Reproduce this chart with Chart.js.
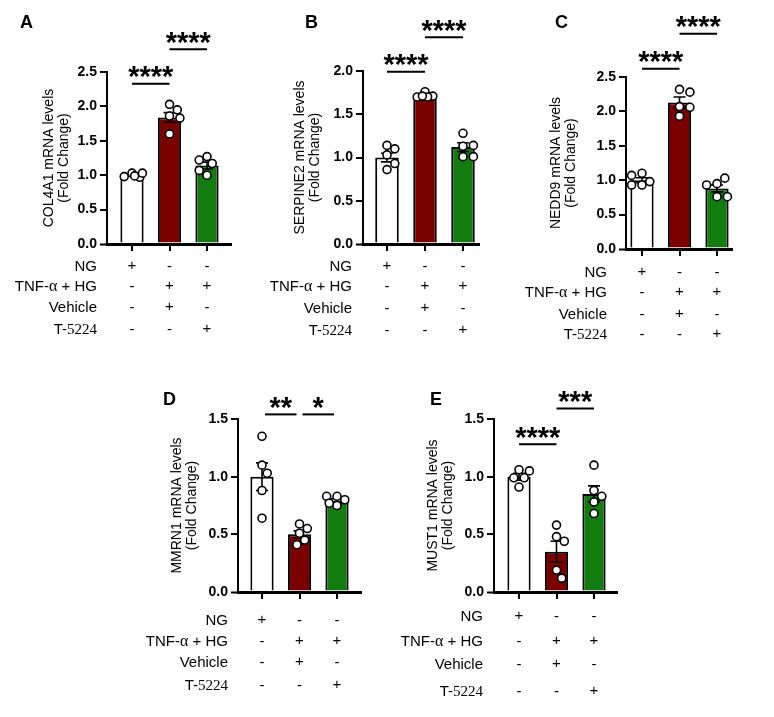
<!DOCTYPE html>
<html>
<head>
<meta charset="utf-8">
<script src="https://cdn.jsdelivr.net/npm/chart.js@4.4.0/dist/chart.umd.min.js"></script>
<style>
  body { margin: 0; background: #fff; width: 774px; height: 717px; position: relative; overflow: hidden; }
</style>
</head>
<body>
<script>
// groups and the treatment table under each panel
var conditions = ['NG', 'TNF-α + HG + Vehicle', 'TNF-α + HG + T-5224'];
var rowLabels = ['NG', 'TNF-α + HG', 'Vehicle', 'T-5224'];
var rowSigns = [
  ['+', '-', '-'],
  ['-', '+', '+'],
  ['-', '+', '-'],
  ['-', '-', '+']
];

// A - COL4A1
var col4a1Mean = [1.0, 1.84, 1.14];
var col4a1Sem = [0.015, 0.07, 0.05];
var col4a1Pts = [[1.03, 0.97, 0.98, 0.99, 1.03], [1.86, 1.83, 2.03, 1.6, 1.95], [1.0, 1.27, 1.17, 1.22, 1.07]];
var col4a1Ticks = [0, 0.5, 1.0, 1.5, 2.0, 2.5];
var col4a1Sig = [[0, 1, 2.33, '****'], [1, 2, 2.83, '****']];

// B - SERPINE2
var serpine2Mean = [1.0, 1.71, 1.12];
var serpine2Sem = [0.05, 0.012, 0.05];
var serpine2Pts = [[1.14, 1.03, 0.86, 0.93, 1.1], [1.76, 1.71, 1.7, 1.7, 1.71], [1.01, 1.13, 1.28, 1.01, 1.14]];
var serpine2Ticks = [0, 0.5, 1.0, 1.5, 2.0];
var serpine2Sig = [[0, 1, 1.99, '****'], [1, 2, 2.39, '****']];

// C - NEDD9
var nedd9Mean = [1.0, 2.13, 0.88];
var nedd9Sem = [0.035, 0.08, 0.05];
var nedd9Pts = [[0.93, 1.1, 0.98, 1.07, 0.93], [2.07, 2.32, 1.93, 2.28, 2.06], [0.76, 0.95, 1.03, 0.93, 0.76]];
var nedd9Ticks = [0, 0.5, 1.0, 1.5, 2.0, 2.5];
var nedd9Sig = [[0, 1, 2.62, '****'], [1, 2, 3.13, '****']];

// D - MMRN1
var mmrn1Mean = [1.0, 0.5, 0.79];
var mmrn1Sem = [0.12, 0.03, 0.02];
var mmrn1Pts = [[1.35, 1.1, 0.88, 1.03, 0.64], [0.59, 0.55, 0.51, 0.45, 0.41], [0.83, 0.75, 0.8, 0.83, 0.77]];
var mmrn1Ticks = [0, 0.5, 1.0, 1.5];
var mmrn1Sig = [[0, 1, 1.54, '**'], [1, 2, 1.54, '*']];

// E - MUST1
var must1Mean = [1.0, 0.35, 0.85];
var must1Sem = [0.03, 0.09, 0.07];
var must1Pts = [[1.06, 1.05, 0.99, 0.99, 0.91], [0.58, 0.48, 0.44, 0.19, 0.12], [1.1, 0.88, 0.78, 0.68, 0.83]];
var must1Ticks = [0, 0.5, 1.0, 1.5];
var must1Sig = [[0, 1, 1.28, '****'], [1, 2, 1.59, '***']];

var barColors = ['#ffffff', '#7b0000', '#127c0e'];
var SANS = "'Liberation Sans', Arial, sans-serif";
var SERIF = "'Liberation Serif', 'Times New Roman', serif";

Chart.defaults.font.family = SANS;
Chart.defaults.color = '#000';

// page layout of each panel (pixels)
var panels = [
  { id: 'A', gene: 'COL4A1', mean: col4a1Mean, sem: col4a1Sem, pts: col4a1Pts, ticks: col4a1Ticks, sig: col4a1Sig,
    box: [0, 0, 250, 350], axisX: 107, top: 72, bottom: 244, c0: 132, c2: 207, right: 232,
    titleX: 49, letter: [20, 28], labelRight: 97, rows: [267, 287, 308, 330], inset: 0 },
  { id: 'B', gene: 'SERPINE2', mean: serpine2Mean, sem: serpine2Sem, pts: serpine2Pts, ticks: serpine2Ticks, sig: serpine2Sig,
    box: [250, 0, 250, 350], axisX: 363, top: 71, bottom: 244, c0: 387, c2: 463, right: 480,
    titleX: 300, letter: [305, 28], labelRight: 352, rows: [267, 287, 309, 331], inset: 0 },
  { id: 'C', gene: 'NEDD9', mean: nedd9Mean, sem: nedd9Sem, pts: nedd9Pts, ticks: nedd9Ticks, sig: nedd9Sig,
    box: [500, 0, 274, 350], axisX: 626, top: 77, bottom: 249, c0: 642, c2: 717, right: 733,
    titleX: 556, letter: [555, 28], labelRight: 607, rows: [273, 293, 315, 335], inset: 0 },
  { id: 'D', gene: 'MMRN1', mean: mmrn1Mean, sem: mmrn1Sem, pts: mmrn1Pts, ticks: mmrn1Ticks, sig: mmrn1Sig,
    box: [130, 370, 260, 347], axisX: 238, top: 419, bottom: 592, c0: 262, c2: 337, right: 362,
    titleX: 177, letter: [163, 405], labelRight: 228, rows: [621, 642, 663, 686], inset: 3 },
  { id: 'E', gene: 'MUST1', mean: must1Mean, sem: must1Sem, pts: must1Pts, ticks: must1Ticks, sig: must1Sig,
    box: [390, 370, 270, 347], axisX: 494, top: 419, bottom: 592, c0: 519, c2: 594, right: 618,
    titleX: 433, letter: [430, 405], labelRight: 483, rows: [617, 642, 665, 692], inset: 0 }
];

// spread points sideways only where they would overlap
function swarm(vals, yPx, xPx) {
  var placed = [], out = [];
  var minD = 8.5;
  vals.forEach(function (v) {
    var y = v * yPx;
    var cands = [0];
    for (var k = 1; k <= 4; k++) cands.push(k * 2.6, -k * 2.6);
    var best = 0, bestD = -1;
    for (var c = 0; c < cands.length; c++) {
      var d = Infinity;
      placed.forEach(function (p) {
        var dx = p[0] - cands[c], dy = p[1] - y;
        d = Math.min(d, Math.sqrt(dx * dx + dy * dy));
      });
      if (d >= minD) { best = cands[c]; bestD = d; break; }
      if (d > bestD) { bestD = d; best = cands[c]; }
    }
    placed.push([best, y]);
    out.push(best / xPx);
  });
  return out;
}

function mixedText(ctx, pieces, rightX, y) {
  var total = 0;
  pieces.forEach(function (p) { ctx.font = p[1]; total += ctx.measureText(p[0]).width; });
  var x = rightX - total;
  ctx.textAlign = 'left';
  pieces.forEach(function (p) {
    ctx.font = p[1];
    ctx.fillText(p[0], x, y);
    x += ctx.measureText(p[0]).width;
  });
}

function labelPieces(label) {
  var sans = '15px ' + SANS, serif = '15px ' + SERIF;
  if (label.indexOf('α') >= 0) {
    var i = label.indexOf('α');
    return [[label.slice(0, i), sans], ['α', '16px ' + SERIF], [label.slice(i + 1), sans]];
  }
  if (label.indexOf('T-') === 0) return [['T-', sans], [label.slice(2), serif]];
  return [[label, sans]];
}

var panelDecor = {
  id: 'panelDecor',
  afterDatasetDraw: function (chart, args, opts) {
    if (args.index !== 0) return;
    var p = opts.panel, ctx = chart.ctx, ys = chart.scales.y;
    var meta = chart.getDatasetMeta(0);
    ctx.save();
    ctx.strokeStyle = '#000';
    ctx.lineWidth = 1.6;
    meta.data.forEach(function (bar, i) {
      var yHi = ys.getPixelForValue(p.mean[i] + p.sem[i]);
      var yLo = ys.getPixelForValue(p.mean[i] - p.sem[i]);
      ctx.beginPath();
      ctx.moveTo(bar.x, yHi); ctx.lineTo(bar.x, yLo);
      ctx.moveTo(bar.x - 6, yHi); ctx.lineTo(bar.x + 6, yHi);
      ctx.moveTo(bar.x - 6, yLo); ctx.lineTo(bar.x + 6, yLo);
      ctx.stroke();
    });
    ctx.restore();
  },
  afterDraw: function (chart, args, opts) {
    var p = opts.panel, ctx = chart.ctx;
    var xs = chart.scales.x, ys = chart.scales.y;
    var L = p.box[0], T = p.box[1];
    ctx.save();
    ctx.fillStyle = '#000';
    ctx.strokeStyle = '#000';

    // panel letter
    ctx.font = 'bold 18px ' + SANS;
    ctx.textAlign = 'left';
    ctx.textBaseline = 'alphabetic';
    ctx.fillText(p.id, p.letter[0] - L, p.letter[1] - T);

    // significance bars
    p.sig.forEach(function (s) {
      var x1 = xs.getPixelForValue(s[0]) + p.inset;
      var x2 = xs.getPixelForValue(s[1]) - p.inset;
      var y = ys.getPixelForValue(s[2]);
      ctx.lineWidth = 2;
      ctx.beginPath();
      ctx.moveTo(x1, y); ctx.lineTo(x2, y);
      ctx.stroke();
      ctx.font = 'bold 29px ' + SANS;
      ctx.textAlign = 'center';
      ctx.textBaseline = 'alphabetic';
      var m = ctx.measureText(s[3]);
      var base = y - 11.5 + (m.actualBoundingBoxAscent - m.actualBoundingBoxDescent) / 2;
      ctx.fillText(s[3], (x1 + x2) / 2, base);
    });

    // treatment table
    ctx.textBaseline = 'middle';
    rowLabels.forEach(function (lab, r) {
      var y = p.rows[r] - T;
      mixedText(ctx, labelPieces(lab), p.labelRight - L, y);
      ctx.font = '15px ' + SANS;
      ctx.textAlign = 'center';
      rowSigns[r].forEach(function (sg, i) {
        ctx.fillText(sg, xs.getPixelForValue(i), y - (sg === '+' ? 1.5 : 0));
      });
    });
    ctx.restore();
  }
};

panels.forEach(function (p) {
  var L = p.box[0], T = p.box[1], W = p.box[2], H = p.box[3];
  var canvas = document.createElement('canvas');
  canvas.width = W; canvas.height = H;
  canvas.style.cssText = 'position:absolute;left:' + L + 'px;top:' + T + 'px;width:' + W + 'px;height:' + H + 'px';
  document.body.appendChild(canvas);

  var step = (p.c2 - p.c0) / 2;
  var xMin = -(p.c0 - p.axisX) / step;
  var xMax = 2 + (p.right - p.c2) / step;
  var yMax = p.ticks[p.ticks.length - 1];
  var yPx = (p.bottom - p.top) / yMax;
  var titleLH = 15.5;
  var xAxisH = 10;
  var padLeft = p.titleX - titleLH / 2 - L;

  var points = [];
  p.pts.forEach(function (vals, i) {
    var offs = swarm(vals, yPx, step);
    vals.forEach(function (v, k) { points.push({ x: i + offs[k], y: v }); });
  });

  new Chart(canvas, {
    type: 'bar',
    data: {
      datasets: [{
        label: p.gene,
        data: p.mean.map(function (m, i) { return { x: i, y: m }; }),
        backgroundColor: barColors,
        borderColor: '#000',
        borderWidth: 2,
        inflateAmount: 0,
        barPercentage: 0.62,
        categoryPercentage: 1,
        order: 2
      }, {
        type: 'scatter',
        label: p.gene + ' replicates',
        data: points,
        pointRadius: 4,
        pointBorderWidth: 1.6,
        pointBackgroundColor: '#fff',
        pointBorderColor: '#000',
        order: 1
      }]
    },
    options: {
      responsive: false,
      animation: false,
      layout: { padding: { left: padLeft, top: p.top - T, right: L + W - p.right, bottom: T + H - p.bottom - xAxisH } },
      plugins: {
        legend: { display: false },
        tooltip: { enabled: false },
        panelDecor: { panel: p }
      },
      scales: {
        x: {
          type: 'linear',
          min: xMin,
          max: xMax,
          offset: false,
          afterBuildTicks: function (s) { s.ticks = conditions.map(function (c, i) { return { value: i }; }); },
          afterFit: function (s) { s.height = xAxisH; s.paddingLeft = 0; s.paddingRight = 0; },
          ticks: { display: false },
          // tick marks under each bar, drawn after the bars
          grid: { offset: false, z: 1, drawOnChartArea: false, drawTicks: true, tickLength: 7, color: '#000', lineWidth: 2 },
          border: { display: false }
        },
        y: {
          min: 0,
          max: yMax,
          afterBuildTicks: function (s) { s.ticks = p.ticks.map(function (v) { return { value: v }; }); },
          afterFit: function (s) { s.width = p.axisX - L - padLeft; s.paddingTop = 0; s.paddingBottom = 0; },
          ticks: {
            padding: 3,
            font: { size: 14, weight: 'bold' },
            callback: function (v) { return Number(v).toFixed(1); }
          },
          // the zero grid line doubles as the x axis line
          grid: {
            drawOnChartArea: true,
            drawTicks: true,
            tickLength: 7,
            color: function (c) { return c.tick && c.tick.value === 0 ? '#000' : 'rgba(0,0,0,0)'; },
            lineWidth: function (c) { return c.tick && c.tick.value === 0 ? 3 : 2; },
            tickColor: '#000',
            tickWidth: 2
          },
          border: { color: '#000', width: 2 },
          title: {
            display: true,
            text: [p.gene + ' mRNA levels', '(Fold Change)'],
            font: { size: 14, lineHeight: titleLH / 14 },
            padding: 0
          }
        }
      }
    },
    plugins: [panelDecor]
  });
});
</script>
</body>
</html>
